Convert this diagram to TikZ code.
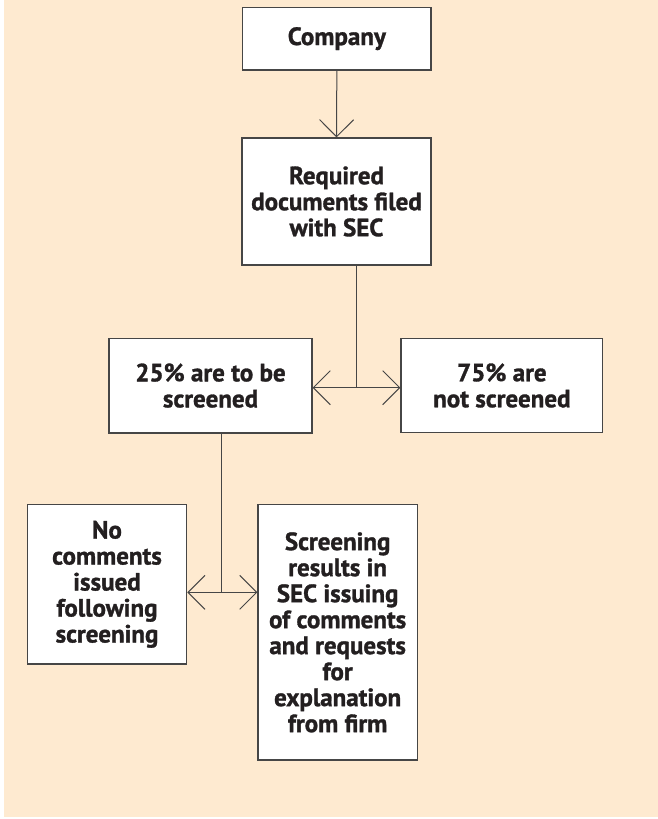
\documentclass[tikz,border=0pt]{standalone}
\usepackage{fontspec}
\newfontfamily\boxfont{PT Sans}[BoldFeatures={FakeBold=1.2}]
\usetikzlibrary{arrows.meta}
\definecolor{peach}{RGB}{254,234,208}
\definecolor{ink}{RGB}{35,31,32}
\definecolor{edge}{RGB}{70,70,70}
\begin{document}
\begin{tikzpicture}[x=1pt,y=-1pt,
  box/.style={draw=edge, line width=1.2pt, fill=white, inner sep=0pt, align=center,
    font=\boxfont\bfseries\fontsize{25}{26}\selectfont, text=ink},
  link/.style={draw=edge, line width=1pt},
  tip/.style={-{Straight Barb[length=17pt,width=34pt,line width=1pt]}},
  dbl/.style={{Straight Barb[length=17pt,width=34pt,line width=1pt]}-{Straight Barb[length=17pt,width=34pt,line width=1pt]}}]
\useasboundingbox (0,0) rectangle (658,819);
\fill[white] (0,0) rectangle (658,819);
\fill[peach] (4,0) rectangle (658,817);

\node[box, minimum width=188.3pt, minimum height=62.7pt] (company) at (336.85,38.65) {Company};
\node[box, minimum width=189pt, minimum height=127pt] (required) at (336.5,201.5) {Required\\documents filed\\with SEC};
\node[box, minimum width=203pt, minimum height=94.7pt] (s25) at (210.5,385.6) {25\% are to be\\screened};
\node[box, minimum width=201.7pt, minimum height=94.4pt] (s75) at (501.85,385.5) {75\% are\\not screened};
\node[box, minimum width=159.4pt, minimum height=159.3pt] (nocom) at (107,584.35) {No\\comments\\issued\\following\\screening};
\node[box, minimum width=159.3pt, minimum height=255.3pt] (screen) at (337.65,632.35) {Screening\\results in\\SEC issuing\\of comments\\and requests\\for\\explanation\\from firm};

\draw[link,tip] (company.south) -- (required.north);
\coordinate (j1) at (356,387.7);
\draw[link] (required.south -| j1) -- (j1);
\draw[link,dbl] (s25.east |- j1) -- (s75.west |- j1);
\coordinate (j2) at (221,592.3);
\draw[link] (s25.south -| j2) -- (j2);
\draw[link,dbl] (nocom.east |- j2) -- (screen.west |- j2);
\end{tikzpicture}
\end{document}
